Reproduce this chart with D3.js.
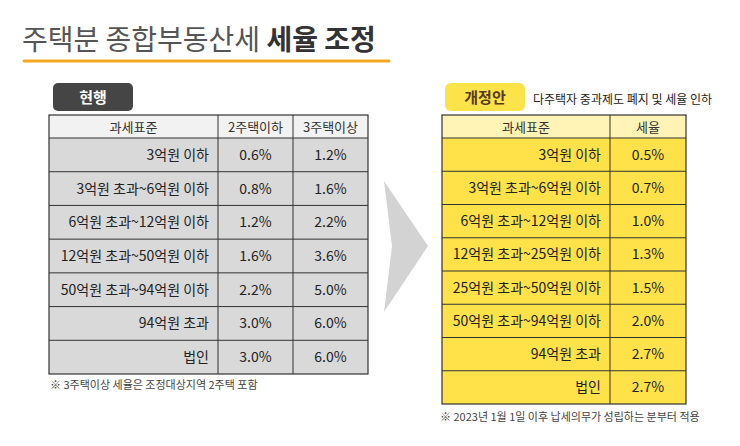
<!DOCTYPE html>
<html><head><meta charset="utf-8">
<script src="https://cdn.jsdelivr.net/npm/d3@7"></script>
<style>body{margin:0;background:#fff}svg{display:block}text{font-family:"Noto Sans CJK KR",sans-serif}</style>
</head><body><svg id="c" width="740" height="446"></svg>
<script>
// current rates
const curBrackets = ['3억원 이하', '3억원 초과~6억원 이하', '6억원 초과~12억원 이하', '12억원 초과~50억원 이하', '50억원 초과~94억원 이하', '94억원 초과', '법인']
const curTwo = ['0.6%', '0.8%', '1.2%', '1.6%', '2.2%', '3.0%', '3.0%']
const curThree = ['1.2%', '1.6%', '2.2%', '3.6%', '5.0%', '6.0%', '6.0%']
// proposed rates
const newBrackets = ['3억원 이하', '3억원 초과~6억원 이하', '6억원 초과~12억원 이하', '12억원 초과~25억원 이하', '25억원 초과~50억원 이하', '50억원 초과~94억원 이하', '94억원 초과', '법인']
const newRate = ['0.5%', '0.7%', '1.0%', '1.3%', '1.5%', '2.0%', '2.7%', '2.7%']

const svg = d3.select('#c')

svg.append('text').attr('x', 22).attr('y', 50).attr('font-size', 28).attr('fill', '#555')
  .text('주택분 종합부동산세 ')
  .append('tspan').attr('font-weight', 'bold').attr('fill', '#333').text('세율 조정')
svg.append('line').attr('x1', 24).attr('x2', 389).attr('y1', 61).attr('y2', 61)
  .attr('stroke', '#f5a623').attr('stroke-width', 3).attr('stroke-linecap', 'round')

function drawTable (x0, colEdges, headers, rows, yTop, yHead, yBot, headFill, rowFill) {
  let g = svg.append('g')
  let y = d3.scaleBand().domain(d3.range(rows.length)).range([yHead, yBot])
  g.append('rect').attr('x', x0).attr('y', yTop).attr('width', colEdges[colEdges.length - 1] - x0).attr('height', yHead - yTop).attr('fill', headFill)
  g.append('rect').attr('x', x0).attr('y', yHead).attr('width', colEdges[colEdges.length - 1] - x0).attr('height', yBot - yHead).attr('fill', rowFill)
  let edges = [x0].concat(colEdges)
  headers.forEach((h, i) => {
    g.append('text').attr('x', (edges[i] + edges[i + 1]) / 2).attr('y', (yTop + yHead) / 2 + 5)
      .attr('text-anchor', 'middle').attr('font-size', 13).attr('fill', '#333').text(h)
  })
  rows.forEach((r, ri) => {
    let cy = y(ri) + y.bandwidth() / 2 + 5
    r.forEach((v, ci) => {
      g.append('text')
        .attr('x', ci === 0 ? edges[1] - 9 : (edges[ci] + edges[ci + 1]) / 2)
        .attr('y', cy).attr('text-anchor', ci === 0 ? 'end' : 'middle')
        .attr('font-size', 14).attr('fill', '#222').text(v)
    })
    g.append('line').attr('x1', x0).attr('x2', edges[edges.length - 1]).attr('y1', y(ri)).attr('y2', y(ri)).attr('stroke', '#333')
  })
  g.append('rect').attr('x', x0).attr('y', yTop).attr('width', edges[edges.length - 1] - x0).attr('height', yBot - yTop)
    .attr('fill', 'none').attr('stroke', '#333').attr('stroke-width', 1.2)
  edges.slice(1, -1).forEach(e => g.append('line').attr('x1', e).attr('x2', e).attr('y1', yTop).attr('y2', yBot).attr('stroke', '#333'))
}

// left
svg.append('rect').attr('x', 53).attr('y', 83).attr('width', 80).attr('height', 28).attr('rx', 5).attr('fill', '#454545')
svg.append('text').attr('x', 93).attr('y', 103).attr('text-anchor', 'middle').attr('font-size', 15).attr('font-weight', 'bold').attr('fill', '#fff').text('현행')
drawTable(49, [218, 293, 368], ['과세표준', '2주택이하', '3주택이상'],
  curBrackets.map((b, i) => [b, curTwo[i], curThree[i]]), 115, 138, 374, '#f2f2f2', '#d9d9d9')
svg.append('text').attr('x', 50).attr('y', 389).attr('font-size', 11).attr('fill', '#444').text('※ 3주택이상 세율은 조정대상지역 2주택 포함')

// arrow
svg.append('path').attr('d', 'M384,181 L428,246 L384,312 L392,246 Z').attr('fill', '#d3d3d3')

// right
svg.append('rect').attr('x', 445).attr('y', 83).attr('width', 80).attr('height', 28).attr('rx', 6).attr('fill', '#fde34a')
svg.append('text').attr('x', 485).attr('y', 103).attr('text-anchor', 'middle').attr('font-size', 15).attr('font-weight', 'bold').attr('fill', '#5a3a1a').text('개정안')
svg.append('text').attr('x', 533).attr('y', 104).attr('font-size', 12).attr('fill', '#222').text('다주택자 중과제도 폐지 및 세율 인하')
drawTable(442, [610, 686], ['과세표준', '세율'],
  newBrackets.map((b, i) => [b, newRate[i]]), 115, 138, 404, '#fff3b5', '#ffe24a')
svg.append('text').attr('x', 440).attr('y', 421).attr('font-size', 11).attr('fill', '#444').text('※ 2023년 1월 1일 이후 납세의무가 성립하는 분부터 적용')
</script></body></html>
